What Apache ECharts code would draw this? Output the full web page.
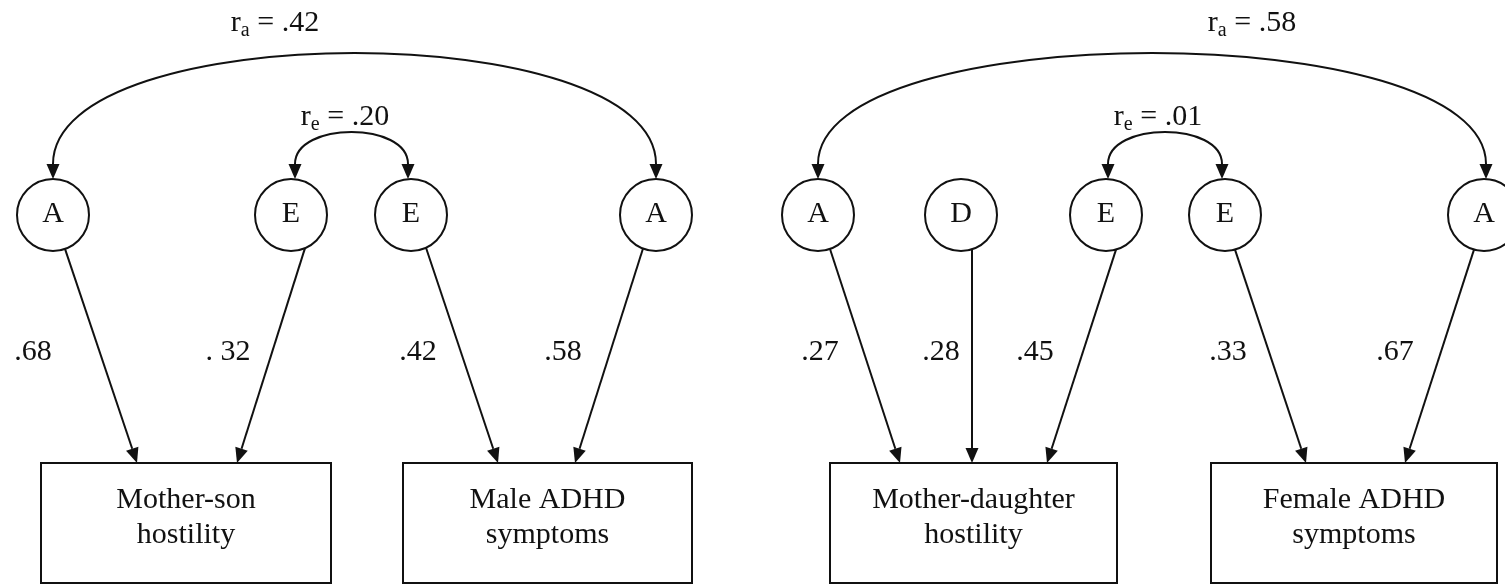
<!DOCTYPE html>
<html>
<head>
<meta charset="utf-8">
<title>Path diagram</title>
<script src="https://cdn.jsdelivr.net/npm/echarts@6/dist/echarts.min.js"></script>
<style>
  html, body { margin: 0; padding: 0; background: #fff; }
  #chart { width: 1505px; height: 584px; }
</style>
</head>
<body>
<div id="chart"></div>
<script>
// latent factors: A = additive genetic, D = dominance, E = nonshared environment
const factorNames = ['A', 'E', 'E', 'A', 'A', 'D', 'E', 'E', 'A'];
// observed variables
const measureNames = ['Mother-son\nhostility', 'Male ADHD\nsymptoms', 'Mother-daughter\nhostility', 'Female ADHD\nsymptoms'];
// path estimates, factor -> measure
const pathFrom = [0, 1, 2, 3, 4, 5, 6, 7, 8];
const pathTo = [0, 0, 1, 1, 2, 2, 2, 3, 3];
const pathLabels = ['.68', '. 32', '.42', '.58', '.27', '.28', '.45', '.33', '.67'];
// correlations between factors
const corrFrom = [0, 1, 4, 6];
const corrTo = [3, 2, 8, 7];
const corrSub = ['a', 'e', 'a', 'e'];
const corrLabels = ['.42', '.20', '.58', '.01'];

// layout, in figure pixels (x 0..1505, y 0..584 from the top)
const factorX = [53, 291, 411, 656, 818, 961, 1106, 1225, 1484];
const factorY = 215;
const factorR = 36;
const boxLeft = [41, 403, 830, 1211];
const boxRight = [331, 692, 1117, 1497];
const boxTop = 463;
const boxBottom = 583;
const pathStartX = [65, 305, 426, 643, 830, 972, 1116, 1235, 1474];
const pathEndX = [137, 237, 498, 575, 900, 972, 1047, 1306, 1405];
const pathLabelX = [33, 228, 418, 563, 820, 941, 1035, 1228, 1395];
const pathLabelY = 352;
const corrStartX = [53, 295, 818, 1108];
const corrEndX = [656, 408, 1486, 1222];
const corrPeakY = [53, 132, 53, 132];
const corrLabelX = [275, 345, 1252, 1158];
const corrLabelY = [23, 117, 23, 117];

const INK = '#111';
const FONT = '"Liberation Serif", "Times New Roman", serif';
const ARROW_LEN = 15;
const ARROW_HALF = 6.5;

const chart = echarts.init(document.getElementById('chart'));

function arrowHead(tip, from) {
  const dx = tip[0] - from[0], dy = tip[1] - from[1];
  const d = Math.hypot(dx, dy);
  const ux = dx / d, uy = dy / d;
  const bx = tip[0] - ux * ARROW_LEN, by = tip[1] - uy * ARROW_LEN;
  return {
    type: 'polygon',
    shape: { points: [tip, [bx - uy * ARROW_HALF, by + ux * ARROW_HALF], [bx + uy * ARROW_HALF, by - ux * ARROW_HALF]] },
    style: { fill: INK }
  };
}

function textEl(text, p, extra) {
  return {
    type: 'text',
    style: Object.assign({
      text: text, x: p[0], y: p[1], align: 'center', verticalAlign: 'middle',
      fontSize: 30, fontFamily: FONT, fill: INK
    }, extra || {})
  };
}

const factorData = factorX.map(x => [x, factorY]);
const boxData = boxLeft.map((l, i) => [l, boxTop, boxRight[i], boxBottom]);
const pathData = pathFrom.map((f, i) => {
  const sx = pathStartX[i];
  const sy = factorY + Math.sqrt(factorR * factorR - Math.pow(sx - factorX[f], 2));
  return [sx, sy, pathEndX[i], boxTop, pathLabelX[i], pathLabelY];
});
const tipY = factorY - factorR;
const corrData = corrFrom.map((f, i) => [corrStartX[i], tipY, corrEndX[i], tipY, corrPeakY[i], corrLabelX[i], corrLabelY[i]]);

const option = {
  animation: false,
  grid: { left: 0, right: 0, top: 0, bottom: 0 },
  xAxis: { type: 'value', min: 0, max: 1505, show: false },
  yAxis: { type: 'value', min: 0, max: 584, inverse: true, show: false },
  series: [
    {
      name: 'measures',
      type: 'custom',
      encode: { x: [0, 2], y: [1, 3] },
      data: boxData,
      renderItem: (params, api) => {
        const a = api.coord([api.value(0), api.value(1)]);
        const b = api.coord([api.value(2), api.value(3)]);
        return {
          type: 'group',
          children: [
            { type: 'rect', shape: { x: a[0], y: a[1], width: b[0] - a[0], height: b[1] - a[1] },
              style: { fill: '#fff', stroke: INK, lineWidth: 2 } },
            textEl(measureNames[params.dataIndex], [(a[0] + b[0]) / 2, a[1] + 55], { lineHeight: 35 })
          ]
        };
      }
    },
    {
      name: 'factors',
      type: 'custom',
      encode: { x: 0, y: 1 },
      data: factorData,
      renderItem: (params, api) => {
        const c = api.coord([api.value(0), api.value(1)]);
        const r = api.size([factorR, 0])[0];
        return {
          type: 'group',
          children: [
            { type: 'circle', shape: { cx: c[0], cy: c[1], r: r }, style: { fill: '#fff', stroke: INK, lineWidth: 2 } },
            textEl(factorNames[params.dataIndex], [c[0], c[1] - 1])
          ]
        };
      }
    },
    {
      name: 'paths',
      type: 'custom',
      encode: { x: [0, 2], y: [1, 3] },
      data: pathData,
      renderItem: (params, api) => {
        const s = api.coord([api.value(0), api.value(1)]);
        const e = api.coord([api.value(2), api.value(3)]);
        const lp = api.coord([api.value(4), api.value(5)]);
        const d = Math.hypot(e[0] - s[0], e[1] - s[1]);
        const base = [e[0] - (e[0] - s[0]) / d * ARROW_LEN, e[1] - (e[1] - s[1]) / d * ARROW_LEN];
        return {
          type: 'group',
          children: [
            { type: 'line', shape: { x1: s[0], y1: s[1], x2: base[0], y2: base[1] }, style: { stroke: INK, lineWidth: 2 } },
            arrowHead(e, s),
            textEl(pathLabels[params.dataIndex], lp)
          ]
        };
      }
    },
    {
      name: 'correlations',
      type: 'custom',
      encode: { x: [0, 2], y: [1, 4] },
      data: corrData,
      renderItem: (params, api) => {
        const i = params.dataIndex;
        const s = api.coord([api.value(0), api.value(1)]);
        const e = api.coord([api.value(2), api.value(3)]);
        const peak = api.coord([0, api.value(4)])[1];
        const lp = api.coord([api.value(5), api.value(6)]);
        const baseY = s[1] - ARROW_LEN;
        const cy = baseY - (baseY - peak) * 4 / 3;
        return {
          type: 'group',
          children: [
            { type: 'bezierCurve',
              shape: { x1: s[0], y1: baseY, cpx1: s[0], cpy1: cy, cpx2: e[0], cpy2: cy, x2: e[0], y2: baseY },
              style: { stroke: INK, lineWidth: 2, fill: null } },
            arrowHead(s, [s[0], baseY]),
            arrowHead(e, [e[0], baseY]),
            textEl('{m|r}{s|' + corrSub[i] + '}{m| = ' + corrLabels[i] + '}', lp, {
              rich: {
                m: { fontSize: 30, fontFamily: FONT, fill: INK, lineHeight: 36 },
                s: { fontSize: 20, fontFamily: FONT, fill: INK, lineHeight: 20, padding: [16, 0, 0, 0] }
              }
            })
          ]
        };
      }
    }
  ]
};

chart.setOption(option);
</script>
</body>
</html>
